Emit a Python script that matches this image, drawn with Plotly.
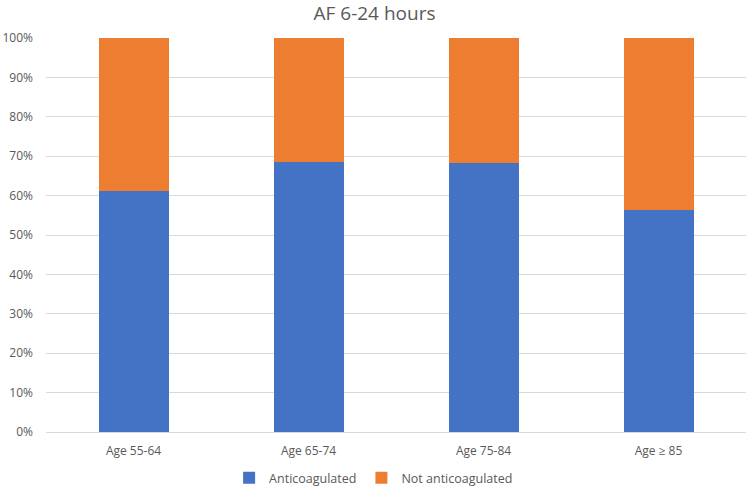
import plotly.graph_objects as go

# Data (percent of patients)
categories = ["Age 55-64", "Age 65-74", "Age 75-84", "Age \u2265 85"]
anticoagulated = [61.2, 68.5, 68.2, 56.4]
not_anticoagulated = [round(100 - v, 1) for v in anticoagulated]

BLUE = "#4472c4"
ORANGE = "#ed7d31"
TEXT = "#595959"
FONT = "Open Sans, Liberation Sans, Arial, sans-serif"

fig = go.Figure()
fig.add_trace(go.Bar(name="Anticoagulated", x=categories, y=anticoagulated,
                     marker_color=BLUE, marker_line_width=0))
fig.add_trace(go.Bar(name="Not anticoagulated", x=categories, y=not_anticoagulated,
                     marker_color=ORANGE, marker_line_width=0))

fig.update_layout(
    width=749, height=487,
    barmode="stack", bargap=0.6,
    plot_bgcolor="white", paper_bgcolor="white",
    font=dict(family=FONT, size=12, color=TEXT),
    title=dict(text="AF 6-24 hours", x=0.5, xanchor="center", y=0.973, yanchor="middle",
               font=dict(family=FONT, size=19, color=TEXT), automargin=False),
    margin=dict(l=46, r=3, t=38, b=55, autoexpand=False),
    legend=dict(orientation="h", x=0.468, xanchor="center", y=-0.079, yanchor="top",
                font=dict(size=12.5, color=TEXT), itemwidth=30, traceorder="normal"),
    showlegend=True,
)
fig.update_yaxes(range=[0, 100], dtick=10, ticksuffix="%", gridcolor="#d9d9d9",
                 gridwidth=1, zeroline=False, showline=False, ticks="",
                 ticklabelstandoff=12, automargin=False,
                 tickfont=dict(size=12, color=TEXT))
fig.update_xaxes(showline=True, linecolor="#d9d9d9", linewidth=1, ticks="",
                 ticklabelstandoff=8, automargin=False,
                 tickfont=dict(size=12, color=TEXT))

# drop the browser's default 8px body margin so the figure sits at the page corner
fig.write_html("out.html", config={"displayModeBar": False},
               post_script="document.body.style.margin='0';")
